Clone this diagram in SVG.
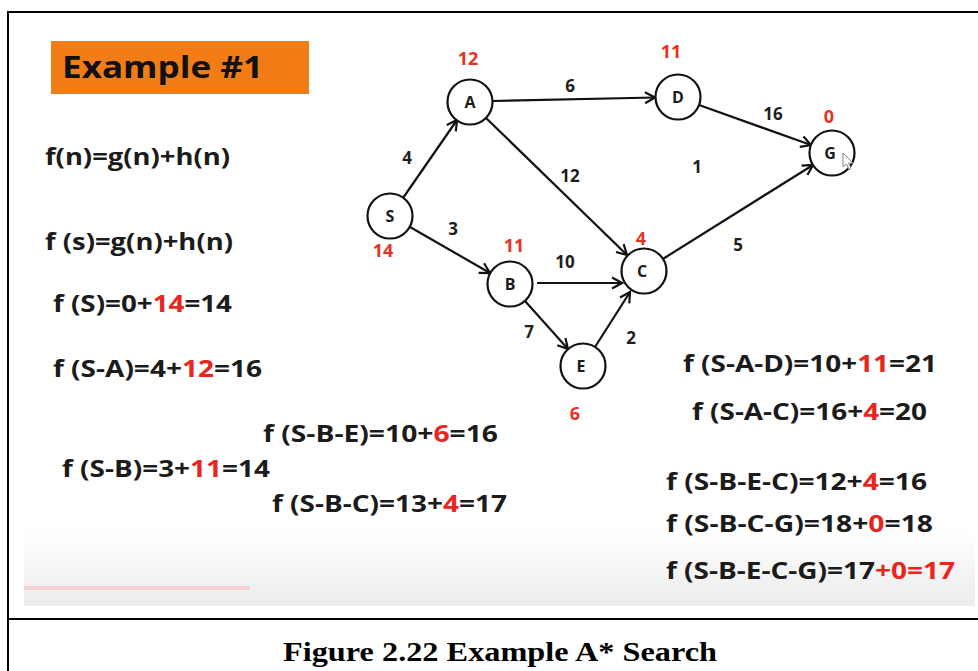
<svg xmlns="http://www.w3.org/2000/svg" width="978" height="671" viewBox="0 0 978 671">
<defs>
<linearGradient id="fade" x1="0" y1="0" x2="0" y2="1">
<stop offset="0" stop-color="#ffffff"/>
<stop offset="1" stop-color="#ebebeb"/>
</linearGradient>
<marker id="arr" markerUnits="userSpaceOnUse" markerWidth="14" markerHeight="14" viewBox="0 0 14 14" refX="12" refY="7" orient="auto">
<path d="M2,1.5 L12,7 L2,12.5" fill="none" stroke="#111" stroke-width="2.2" stroke-linejoin="miter"/>
</marker>
<style>
.f{font-family:"Open Sans","Liberation Sans",sans-serif;font-weight:700;font-size:23px;fill:#1b1b1b}
.r{fill:#e8261e}
.node circle{fill:#fff;stroke:#111;stroke-width:2.2}
.node text{font-family:"Open Sans","Liberation Sans",sans-serif;font-weight:700;font-size:16px;fill:#1b1b1b;text-anchor:middle}
.h{font-family:"Open Sans","Liberation Sans",sans-serif;font-weight:700;font-size:18px;fill:#e8321f;text-anchor:middle}
.w{font-family:"Open Sans","Liberation Sans",sans-serif;font-weight:700;font-size:17px;fill:#1e1e1e;text-anchor:middle}
.edges line{stroke:#111;stroke-width:2.2;marker-end:url(#arr)}
.cap{font-family:"Liberation Serif","Times New Roman",serif;font-weight:700;font-size:28px;fill:#000}
</style>
</defs>
<rect x="0" y="0" width="978" height="671" fill="#fff"/>
<rect x="24" y="530" width="951" height="76" fill="url(#fade)"/>
<rect x="24" y="586" width="226" height="4" fill="#f5d2d2"/>
<!-- frame -->
<g fill="none" stroke="#000" stroke-width="2">
<line x1="8" y1="12" x2="978" y2="12"/>
<line x1="8" y1="11" x2="8" y2="671"/>
<line x1="8" y1="619" x2="978" y2="619"/>
</g>
<!-- title -->
<rect x="51" y="41" width="258" height="53" fill="#f27d16"/>
<text x="62" y="78" font-family="Open Sans, Liberation Sans, sans-serif" font-weight="700" font-size="30" fill="#111" textLength="201" lengthAdjust="spacingAndGlyphs">Example #1</text>
<!-- formulas -->
<text class="f" x="45" y="165" textLength="185" lengthAdjust="spacingAndGlyphs">f(n)=g(n)+h(n)</text>
<text class="f" x="45" y="250" textLength="188" lengthAdjust="spacingAndGlyphs">f (s)=g(n)+h(n)</text>
<text class="f" x="53" y="312" textLength="179" lengthAdjust="spacingAndGlyphs">f (S)=0+<tspan class="r">14</tspan>=14</text>
<text class="f" x="53" y="377" textLength="209" lengthAdjust="spacingAndGlyphs">f (S-A)=4+<tspan class="r">12</tspan>=16</text>
<text class="f" x="263" y="442" textLength="235" lengthAdjust="spacingAndGlyphs">f (S-B-E)=10+<tspan class="r">6</tspan>=16</text>
<text class="f" x="62" y="477" textLength="208" lengthAdjust="spacingAndGlyphs">f (S-B)=3+<tspan class="r">11</tspan>=14</text>
<text class="f" x="272" y="512" textLength="235" lengthAdjust="spacingAndGlyphs">f (S-B-C)=13+<tspan class="r">4</tspan>=17</text>
<text class="f" x="683" y="372" textLength="254" lengthAdjust="spacingAndGlyphs">f (S-A-D)=10+<tspan class="r">11</tspan>=21</text>
<text class="f" x="692" y="420" textLength="235" lengthAdjust="spacingAndGlyphs">f (S-A-C)=16+<tspan class="r">4</tspan>=20</text>
<text class="f" x="666" y="490" textLength="261" lengthAdjust="spacingAndGlyphs">f (S-B-E-C)=12+<tspan class="r">4</tspan>=16</text>
<text class="f" x="666" y="532" textLength="267" lengthAdjust="spacingAndGlyphs">f (S-B-C-G)=18+<tspan class="r">0</tspan>=18</text>
<text class="f" x="666" y="579" textLength="289" lengthAdjust="spacingAndGlyphs">f (S-B-E-C-G)=17<tspan class="r">+0=17</tspan></text>
<!-- connectors -->
<g id="edges" class="edges">
<line x1="403" y1="198" x2="457" y2="120"/>
<line x1="410" y1="227" x2="490" y2="273"/>
<line x1="493" y1="101" x2="655" y2="97.5"/>
<line x1="486" y1="118" x2="627" y2="255"/>
<line x1="699" y1="105" x2="811" y2="145"/>
<line x1="537" y1="283" x2="622" y2="283"/>
<line x1="525" y1="301" x2="568" y2="349"/>
<line x1="595" y1="347" x2="630" y2="292"/>
<line x1="662" y1="259.5" x2="813" y2="165"/>
</g>
<!-- edge weights -->
<g id="weights">
<text class="w" x="407" y="164">4</text>
<text class="w" x="453" y="235">3</text>
<text class="w" x="570" y="92">6</text>
<text class="w" x="570" y="182">12</text>
<text class="w" x="773" y="120">16</text>
<text class="w" x="697" y="173">1</text>
<text class="w" x="565" y="268">10</text>
<text class="w" x="529" y="338">7</text>
<text class="w" x="631" y="344">2</text>
<text class="w" x="738" y="251">5</text>
</g>
<!-- heuristics -->
<g id="heuristics">
<text class="h" x="468" y="65">12</text>
<text class="h" x="671" y="58">11</text>
<text class="h" x="829" y="123">0</text>
<text class="h" x="383" y="257">14</text>
<text class="h" x="514" y="252">11</text>
<text class="h" x="641" y="245">4</text>
<text class="h" x="575" y="420">6</text>
</g>
<!-- nodes -->
<g id="node-S" class="node"><circle cx="390" cy="216" r="22.5"/><text x="390" y="222">S</text></g>
<g id="node-A" class="node"><circle cx="470" cy="102" r="22.5"/><text x="470" y="108">A</text></g>
<g id="node-D" class="node"><circle cx="678" cy="97" r="22.5"/><text x="678" y="103">D</text></g>
<g id="node-G" class="node"><circle cx="832" cy="153" r="22.5"/><text x="830" y="159">G</text></g>
<g id="node-B" class="node"><circle cx="510" cy="284" r="22.5"/><text x="510" y="290">B</text></g>
<g id="node-C" class="node"><circle cx="644" cy="271" r="22.5"/><text x="642" y="277">C</text></g>
<g id="node-E" class="node"><circle cx="583" cy="366" r="22.5"/><text x="581" y="372">E</text></g>
<!-- mouse pointer -->
<path d="M843,153 L843,167 L846.5,164 L849,169.5 L851,168.5 L848.5,163 L853,163 Z" fill="#fff" stroke="#8a8a8a" stroke-width="1"/>
<!-- caption -->
<text class="cap" x="283" y="661" textLength="434" lengthAdjust="spacingAndGlyphs">Figure 2.22 Example A* Search</text>
</svg>
